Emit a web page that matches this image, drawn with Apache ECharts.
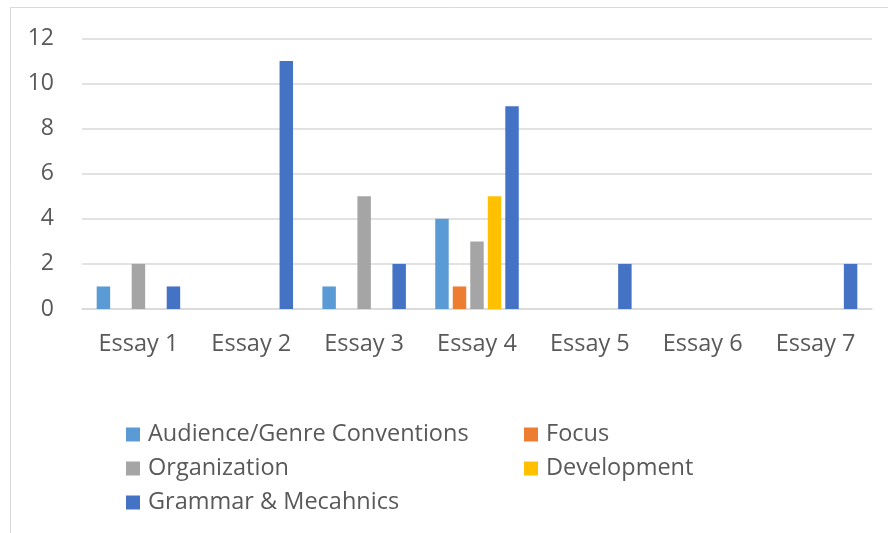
<!DOCTYPE html>
<html>
<head>
<meta charset="utf-8">
<script src="https://cdn.jsdelivr.net/npm/echarts@6/dist/echarts.min.js"></script>
<style>
  html, body { margin: 0; padding: 0; background: #ffffff; }
  #chart { width: 888px; height: 533px; }
</style>
</head>
<body>
<div id="chart"></div>
<script>
const categories = ['Essay 1', 'Essay 2', 'Essay 3', 'Essay 4', 'Essay 5', 'Essay 6', 'Essay 7'];
const seriesNames = ['Audience/Genre Conventions', 'Focus', 'Organization', 'Development', 'Grammar & Mecahnics'];
const audience = [1, 0, 1, 4, 0, 0, 0];
const focus = [0, 0, 0, 1, 0, 0, 0];
const organization = [2, 0, 5, 3, 0, 0, 0];
const development = [0, 0, 0, 5, 0, 0, 0];
const grammar = [1, 11, 2, 9, 2, 0, 2];
const yTicks = [0, 2, 4, 6, 8, 10, 12];

const colors = ['#5B9BD5', '#ED7D31', '#A5A5A5', '#FFC000', '#4472C4'];
const values = [audience, focus, organization, development, grammar];
const font = 'Open Sans';
const textColor = '#595959';

const chart = echarts.init(document.getElementById('chart'), null, { renderer: 'canvas' });

const legendCommon = {
  orient: 'vertical',
  padding: 0,
  itemWidth: 14,
  itemHeight: 14,
  itemGap: 10,
  icon: 'rect',
  textStyle: { fontFamily: font, fontSize: 23.5, color: textColor, lineHeight: 24, padding: [0, 0, 0, 3] }
};

chart.setOption({
  animation: false,
  color: colors,
  textStyle: { fontFamily: font },
  graphic: [{
    type: 'rect',
    shape: { x: 10.5, y: 7.5, width: 900, height: 600 },
    style: { fill: 'none', stroke: '#D9D9D9', lineWidth: 1 },
    silent: true
  }],
  legend: [
    Object.assign({}, legendCommon, { left: 126, top: 422.5, data: [seriesNames[0], seriesNames[2], seriesNames[4]] }),
    Object.assign({}, legendCommon, { left: 524, top: 422.5, data: [seriesNames[1], seriesNames[3]] })
  ],
  grid: { left: 82, right: 16, top: 38.5, bottom: 224, containLabel: false },
  xAxis: {
    type: 'category',
    data: categories,
    axisLine: { show: true, lineStyle: { color: '#D9D9D9', width: 1.5 } },
    axisTick: { show: false },
    axisLabel: { fontFamily: font, fontSize: 23.5, color: textColor, margin: 23 }
  },
  yAxis: {
    type: 'value',
    min: yTicks[0],
    max: yTicks[yTicks.length - 1],
    interval: 2,
    axisLine: { show: false },
    axisTick: { show: false },
    splitLine: { lineStyle: { color: '#D9D9D9', width: 1.5 } },
    axisLabel: { fontFamily: font, fontSize: 23, color: textColor, margin: 28 }
  },
  series: seriesNames.map((name, i) => ({
    name: name,
    type: 'bar',
    data: values[i],
    barGap: '30%',
    barCategoryGap: '26%',
    itemStyle: { color: colors[i] }
  }))
});
</script>
</body>
</html>
